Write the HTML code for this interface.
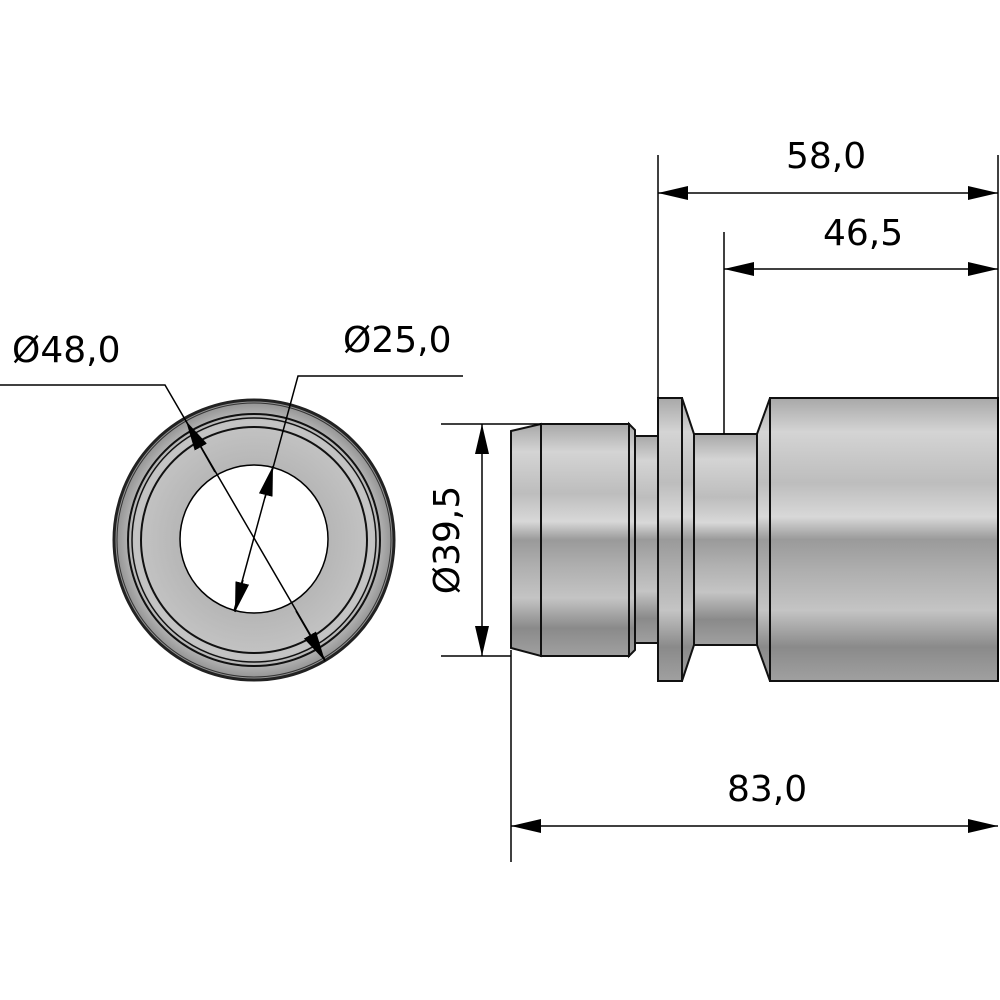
<!DOCTYPE html>
<html><head><meta charset="utf-8"><style>
html,body{margin:0;padding:0;background:#fff;width:1000px;height:1000px;overflow:hidden}
text{font-family:"DejaVu Sans","Liberation Sans",sans-serif;font-size:36px;fill:#000}
</style></head><body>
<svg width="1000" height="1000" viewBox="0 0 1000 1000" xmlns="http://www.w3.org/2000/svg">
<defs>
<linearGradient id="g" x1="0" y1="0" x2="0" y2="1">
<stop offset="0" stop-color="#a8a8a8"/>
<stop offset="0.12" stop-color="#d4d4d4"/>
<stop offset="0.3" stop-color="#bdbdbd"/>
<stop offset="0.42" stop-color="#d8d8d8"/>
<stop offset="0.5" stop-color="#9a9a9a"/>
<stop offset="0.62" stop-color="#b0b0b0"/>
<stop offset="0.75" stop-color="#c4c4c4"/>
<stop offset="0.88" stop-color="#8a8a8a"/>
<stop offset="1" stop-color="#a0a0a0"/>
</linearGradient>
<radialGradient id="rg" cx="0.5" cy="0.5" r="0.5">
<stop offset="0.5" stop-color="#b5b5b5"/>
<stop offset="0.85" stop-color="#c4c4c4"/>
<stop offset="1" stop-color="#8e8e8e"/>
</radialGradient>
<marker id="a" viewBox="0 0 30 14" refX="30" refY="7" markerWidth="30" markerHeight="14" markerUnits="userSpaceOnUse" orient="auto-start-reverse"><path d="M0,0L30,7L0,14z" fill="#000"/></marker>
</defs>
<circle cx="254" cy="540" r="140" fill="url(#rg)" stroke="#222" stroke-width="3"/>
<circle cx="254" cy="540" r="137" fill="none" stroke="#333" stroke-width="1"/>
<circle cx="254" cy="540" r="126" fill="none" stroke="#111" stroke-width="2"/>
<circle cx="254" cy="540" r="122" fill="none" stroke="#111" stroke-width="1.5"/>
<circle cx="254" cy="540" r="113" fill="none" stroke="#111" stroke-width="2"/>
<circle cx="254" cy="539" r="74" fill="#fff" stroke="#000" stroke-width="1.5"/>
<polyline points="0,385 165,385 325,660" fill="none" stroke="#000" stroke-width="1.5"/>
<line x1="215" y1="472" x2="186" y2="421" stroke="#000" stroke-width="1.5" marker-end="url(#a)"/>
<line x1="296" y1="611" x2="325" y2="661" stroke="#000" stroke-width="1.5" marker-end="url(#a)"/>
<polyline points="463,376 298,376 234,611" fill="none" stroke="#000" stroke-width="1.5"/>
<line x1="265" y1="498" x2="273" y2="466" stroke="#000" stroke-width="1.5" marker-end="url(#a)"/>
<line x1="243" y1="580" x2="235" y2="612" stroke="#000" stroke-width="1.5" marker-end="url(#a)"/>
<text x="12" y="362">Ø48,0</text>
<text x="343" y="352">Ø25,0</text>
<g stroke="#111" stroke-width="2" fill="url(#g)">
<rect x="770" y="398" width="228" height="283"/>
<polygon points="757,434 770,398 770,681 757,645"/>
<rect x="694" y="434" width="63" height="211"/>
<polygon points="682,398 694,434 694,645 682,681"/>
<rect x="658" y="398" width="24" height="283"/>
<rect x="635" y="436" width="23" height="207"/>
<polygon points="629,424 635,430 635,650 629,656"/>
<rect x="541" y="424" width="88" height="232"/>
<polygon points="511,431 541,424 541,656 511,648"/>
</g>
<g stroke="#000" stroke-width="1.5" fill="none">
<line x1="658" y1="155" x2="658" y2="398"/>
<line x1="998" y1="155" x2="998" y2="680"/>
<line x1="724" y1="232" x2="724" y2="434"/>
<line x1="511" y1="650" x2="511" y2="862"/>
<line x1="441" y1="424" x2="541" y2="424"/>
<line x1="441" y1="656" x2="511" y2="656"/>
<line x1="658" y1="193" x2="998" y2="193" marker-start="url(#a)" marker-end="url(#a)"/>
<line x1="724" y1="269" x2="998" y2="269" marker-start="url(#a)" marker-end="url(#a)"/>
<line x1="511" y1="826" x2="998" y2="826" marker-start="url(#a)" marker-end="url(#a)"/>
<line x1="482" y1="424" x2="482" y2="656" marker-start="url(#a)" marker-end="url(#a)"/>
</g>
<text x="786" y="168">58,0</text>
<text x="823" y="245">46,5</text>
<text x="727" y="801">83,0</text>
<text transform="translate(459,540) rotate(-90)" text-anchor="middle">Ø39,5</text>
</svg>
</body></html>
